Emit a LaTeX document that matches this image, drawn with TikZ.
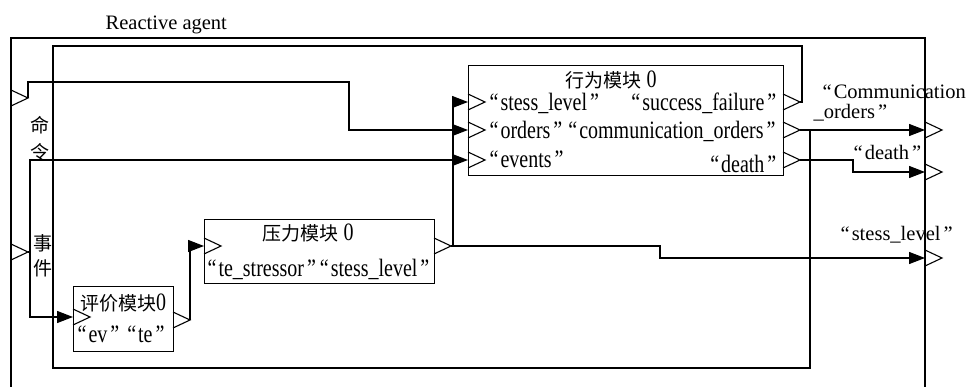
\documentclass[tikz,border=0pt]{standalone}
\usepackage{fontspec}
\setmainfont{Liberation Serif}
\newfontfamily\boxfont{Liberation Serif}[FakeStretch=0.8]
\newfontfamily\cjk{Noto Sans CJK SC}
\usetikzlibrary{arrows.meta}
\newcommand\lquo{\kern2pt“\kern2pt}
\newcommand\rquo{\kern3pt”\kern2pt}
\newcommand\zhtxt[1]{{\cjk\fontsize{19}{21}\selectfont #1}}
\begin{document}
\begin{tikzpicture}[x=1pt,y=-1pt,
  line width=1.3pt,
  blk/.style={draw, line width=1.3pt, inner sep=0pt, anchor=north west},
  lbl/.style={inner sep=0pt, font=\fontsize{20.5}{22}\selectfont},
  blbl/.style={inner sep=0pt, font=\boxfont\fontsize{25}{27}\selectfont},
  conn/.style={-{Triangle[length=16pt,width=12pt]}, line width=1.3pt},
  wire/.style={line width=1.3pt},
  portarrow/.pic={\draw[line width=1.1pt, line join=miter] (0,-8)--(17,0)--(0,8);}
]
\useasboundingbox (0,0) rectangle (966,387);
% frame
\node[lbl, anchor=west] (ttl) at (105,25) {Reactive agent};
\draw[wire] (11,387) -- (11,38) -- (925,38) -- (925,387);

% blocks
\node[blk, minimum width=315pt, minimum height=110pt] (behav) at (468,65) {};
\node[blk, minimum width=230pt, minimum height=64pt] (press) at (204,219) {};
\node[blk, minimum width=100pt, minimum height=65pt] (eval) at (73,286) {};

% ports
\coordinate (bi1) at (468,102); \coordinate (bi2) at (468,130); \coordinate (bi3) at (468,160);
\coordinate (bo1b) at (783,102); \coordinate (bo2b) at (783,130); \coordinate (bo3b) at (783,160);
\coordinate (bo1) at (800,102); \coordinate (bo2) at (800,130); \coordinate (bo3) at (800,160);
\coordinate (fi1b) at (11,98); \coordinate (fi2b) at (11,252);
\coordinate (fi1) at (28,98); \coordinate (fi2) at (28,252);
\coordinate (fo1) at (925,130); \coordinate (fo2) at (925,172); \coordinate (fo3) at (925,258);
\coordinate (ei) at (73,317); \coordinate (eob) at (173,320); \coordinate (eo) at (190,320);
\coordinate (pi) at (204,246); \coordinate (pob) at (434,246); \coordinate (po) at (451,246);

\foreach \p in {bi1,bi2,bi3,bo1b,bo2b,bo3b,fi1b,fi2b,fo1,fo2,fo3,ei,eob,pi,pob}
  \pic at (\p) {portarrow};

% connectors
\draw[conn] (fi1) |- (349,82) |- (bi2);
\draw[conn] (fi2) -- (30,252) |- (bi3);
\draw[conn] (30,252) |- (ei);
\draw[conn] (eo) |- (pi);
\draw[conn] (po) -- (453,246) |- (bi1);
\draw[conn] (po) -- (660,246) |- (fo3);
\draw[wire] (bo1) -- (802,102) -- (802,46) -- (53,46) -- (53,368) -- (810,368) -- (810,130);
\draw[conn] (bo2) -- (fo1);
\draw[conn] (bo3) -- (853,160) |- (fo2);

% texts
\node[blbl] (btitle) at (611,80) {\zhtxt{行为模块}\ 0};
\node[blbl, anchor=west] (bt1) at (487,103) {\lquo stess\_level\rquo};
\node[blbl, anchor=east] (bt2) at (779,103) {\lquo success\_failure\rquo};
\node[blbl, anchor=west] (bt3) at (487,131) {\lquo orders\rquo\kern2pt\lquo communication\_orders\rquo};
\node[blbl, anchor=west] (bt4) at (487,159) {\lquo events\rquo};
\node[blbl, anchor=east] (bt5) at (779,164) {\lquo death\rquo};

\node[blbl] (ptitle) at (308,233) {\zhtxt{压力模块}\ 0};
\node[blbl, anchor=west] (pt1) at (205,269) {\lquo te\_stressor\rquo\lquo stess\_level\rquo};
\node[blbl] (etitle) at (123,303) {\zhtxt{评价模块}0};
\node[blbl, anchor=west] (et1) at (75,334) {\lquo ev\rquo\kern4pt\lquo te\rquo};

\node[lbl] (c1) at (40,125) {\zhtxt{命}};
\node[lbl] (c2) at (40,152) {\zhtxt{令}};
\node[lbl] (e1) at (43,243) {\zhtxt{事}};
\node[lbl] (e2) at (43,268) {\zhtxt{件}};

\node[lbl, anchor=west] (o1) at (820,92) {\lquo Communication};
\node[lbl, anchor=west] (o2) at (813,113) {\_orders\rquo};
\node[lbl, anchor=west] (o3) at (851,152) {\lquo death\rquo};
\node[lbl, anchor=west] (o4) at (838,235) {\lquo stess\_level\rquo};
\end{tikzpicture}
\end{document}
